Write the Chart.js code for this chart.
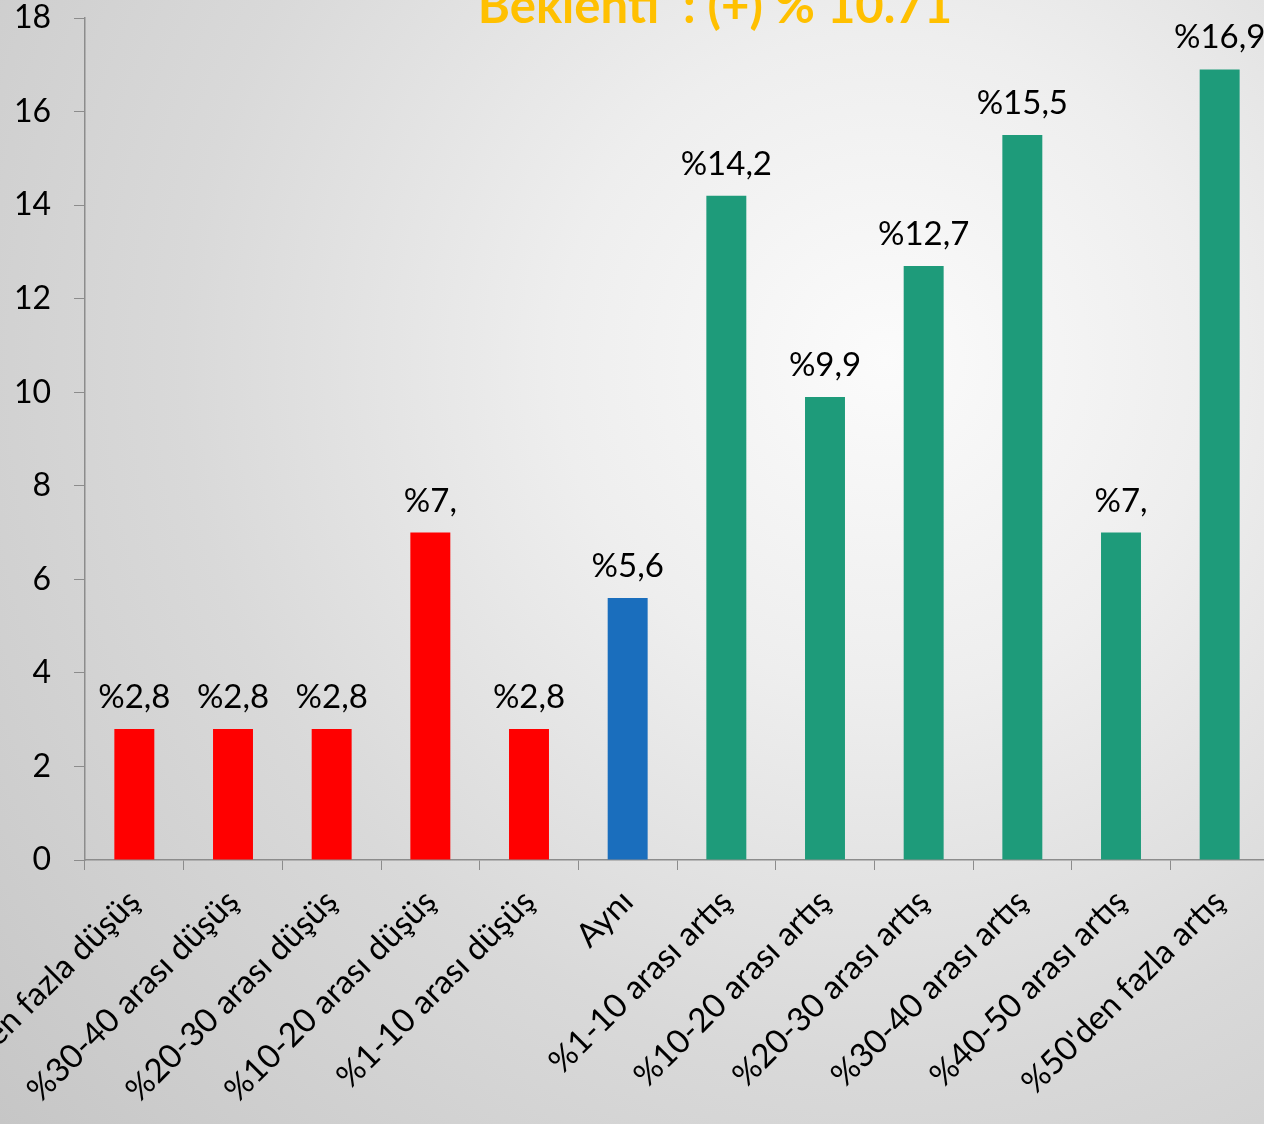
<!DOCTYPE html>
<html>
<head>
<meta charset="utf-8">
<script src="https://cdn.jsdelivr.net/npm/chart.js@4.4.1/dist/chart.umd.min.js"></script>
<style>
  html, body { margin:0; padding:0; }
  body {
    width:1264px; height:1124px; overflow:hidden;
    background: radial-gradient(circle at 70% 32%, #fbfbfb 0%, #eeeeee 28%, #d9d9d9 60%, #c6c6c6 100%);
  }
  #wrap { position:absolute; left:0; top:0; width:1280px; height:1124px; }
</style>
</head>
<body>
<div id="wrap"><canvas id="c"></canvas></div>
<script>
// kategoriler
const categories = [
  "%50'den fazla düşüş", "%30-40 arası düşüş", "%20-30 arası düşüş",
  "%10-20 arası düşüş", "%1-10 arası düşüş", "Aynı",
  "%1-10 arası artış", "%10-20 arası artış", "%20-30 arası artış",
  "%30-40 arası artış", "%40-50 arası artış", "%50'den fazla artış"
]
const values = [2.8, 2.8, 2.8, 7, 2.8, 5.6, 14.2, 9.9, 12.7, 15.5, 7, 16.9]
const valueLabels = ["%2,8", "%2,8", "%2,8", "%7,", "%2,8", "%5,6", "%14,2", "%9,9", "%12,7", "%15,5", "%7,", "%16,9"]
const barColors = ['#FF0000','#FF0000','#FF0000','#FF0000','#FF0000','#1A6EBD',
  '#1E9B7A','#1E9B7A','#1E9B7A','#1E9B7A','#1E9B7A','#1E9B7A']
const yTicks = [0, 2, 4, 6, 8, 10, 12, 14, 16, 18]
const titleText = "Beklenti  : (+) % 10.71"

const FONT = "Lato, 'Open Sans', sans-serif"

// degerleri cubuklarin ustune yaz
const valuePlugin = {
  id: 'valuePlugin',
  afterDatasetsDraw(chart) {
    const ctx = chart.ctx
    const meta = chart.getDatasetMeta(0)
    ctx.save()
    ctx.font = "33px " + FONT
    ctx.fillStyle = '#000'
    ctx.textAlign = 'center'
    ctx.textBaseline = 'alphabetic'
    meta.data.forEach((bar, i) => {
      ctx.fillText(valueLabels[i], bar.x, bar.y - 21)
    })
    ctx.restore()
  }
}

// baslik (ustten kesik)
const titlePlugin = {
  id: 'titlePlugin',
  afterDraw(chart) {
    const ctx = chart.ctx
    ctx.save()
    ctx.font = "bold 49px " + FONT
    ctx.fillStyle = '#FFC000'
    ctx.textAlign = 'center'
    ctx.textBaseline = 'alphabetic'
    ctx.fillText(titleText, 715, 23)
    ctx.restore()
  }
}

data = {
  labels: categories,
  datasets: [{
    data: values,
    backgroundColor: barColors,
    barPercentage: 0.405,
    categoryPercentage: 1.0
  }]
}

const myChart = new Chart(
  document.getElementById('c'),
  {
    type: 'bar',
    data: data,
    plugins: [valuePlugin, titlePlugin],
    options: {
      responsive: true,
      maintainAspectRatio: false,
      animation: false,
      layout: { padding: { top: 18, right: 11, left: 0, bottom: 0 } },
      plugins: {
        legend: { display: false },
        title: { display: false },
        tooltip: { enabled: false }
      },
      scales: {
        x: {
          offset: true,
          grid: { display: true, drawOnChartArea: false, drawTicks: true, tickLength: 10, color: '#8c8c8c', offset: true },
          border: { color: '#8c8c8c', width: 1.5 },
          ticks: {
            color: '#000', font: { size: 33, family: FONT },
            minRotation: 45, maxRotation: 45, autoSkip: false, padding: 12
          },
          afterFit(scale) {
            scale.height = 1124 - 860
            scale.paddingLeft = 0
            scale.paddingRight = 0
          }
        },
        y: {
          min: 0, max: 18,
          afterBuildTicks(scale) {
            scale.ticks = yTicks.map(v => ({ value: v }))
          },
          grid: { display: true, drawOnChartArea: false, drawTicks: true, tickLength: 11, color: '#8c8c8c' },
          border: { color: '#8c8c8c', width: 1.5 },
          ticks: { color: '#000', font: { size: 32, family: FONT }, padding: 23 },
          afterFit(scale) {
            scale.width = 85
            scale.paddingTop = 0
            scale.paddingBottom = 0
          }
        }
      }
    }
  }
)
</script>
</body>
</html>
